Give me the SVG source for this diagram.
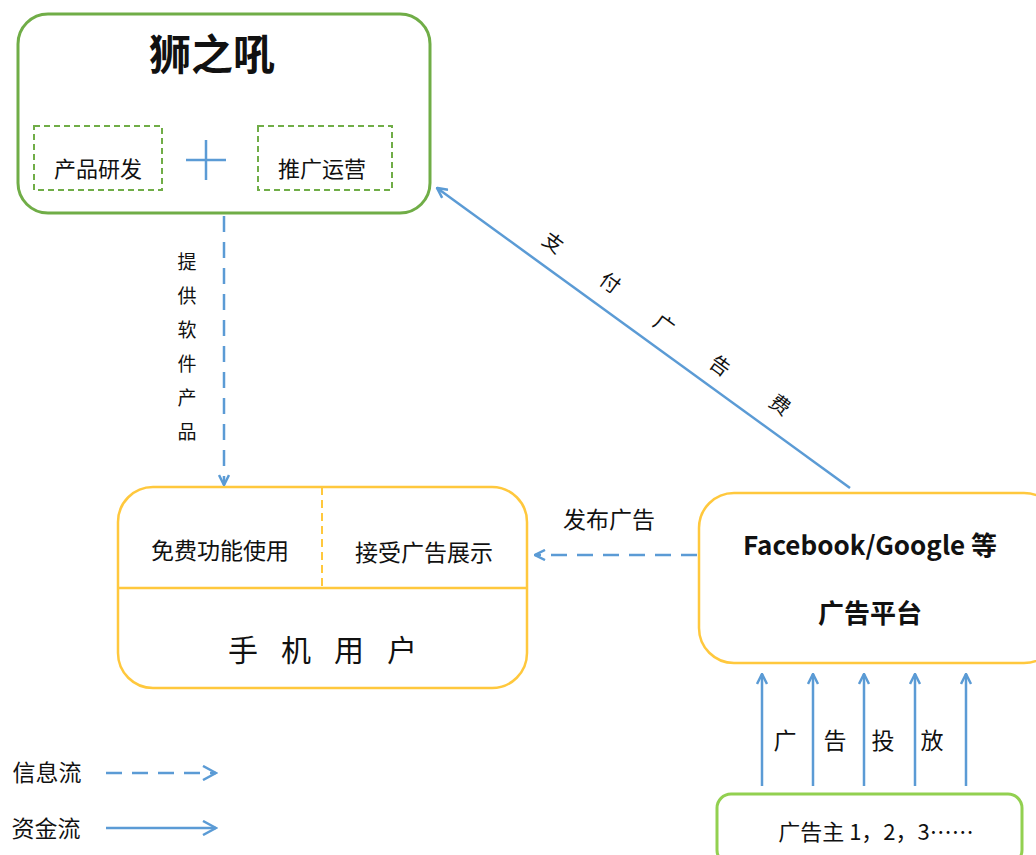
<svg xmlns="http://www.w3.org/2000/svg" width="1036" height="855" viewBox="0 0 1036 855">
<style>
.t{font-family:"Noto Sans CJK SC","Liberation Sans",sans-serif;fill:#111;text-anchor:middle}
.b{font-weight:bold}
.flow{stroke:#5B9BD5;stroke-width:2.5;fill:none}
.dash{stroke-dasharray:16 10}
</style>
<defs>
<marker id="ah" viewBox="0 0 12 12" refX="11" refY="6" markerWidth="12" markerHeight="12" markerUnits="userSpaceOnUse" orient="auto">
<path d="M1,1 L11,6 L1,11" fill="none" stroke="#5B9BD5" stroke-width="2.5"/>
</marker>
<marker id="ahb" viewBox="0 0 16 16" refX="14" refY="8" markerWidth="16" markerHeight="16" markerUnits="userSpaceOnUse" orient="auto">
<path d="M1,1 L14,8 L1,15" fill="none" stroke="#5B9BD5" stroke-width="2.5"/>
</marker>
</defs>
<rect width="1036" height="855" fill="#fff"/>
<g id="node-shizhihou">
<rect x="18" y="14" width="412" height="199" rx="30" fill="#fff" stroke="#70AD47" stroke-width="3"/>
<text class="t b" x="212" y="70" font-size="42">狮之吼</text>
<rect x="34" y="126" width="128" height="64" fill="none" stroke="#70AD47" stroke-width="2" stroke-dasharray="6 4"/>
<text class="t" x="98" y="177" font-size="22">产品研发</text>
<path d="M186,160 H226 M206,140 V180" stroke="#5B9BD5" stroke-width="2.5"/>
<rect x="258" y="126" width="134" height="64" fill="none" stroke="#70AD47" stroke-width="2" stroke-dasharray="6 4"/>
<text class="t" x="322" y="177" font-size="22">推广运营</text>
</g>
<g id="node-users">
<rect x="118" y="487" width="409" height="201" rx="35" fill="#fff" stroke="#FFC83D" stroke-width="2.5"/>
<line x1="118" y1="588" x2="527" y2="588" stroke="#FFC83D" stroke-width="2.5"/>
<line x1="322" y1="487" x2="322" y2="588" stroke="#FFC83D" stroke-width="2" stroke-dasharray="8 5"/>
<text class="t" x="220" y="559" font-size="23">免费功能使用</text>
<text class="t" x="424" y="561" font-size="23">接受广告展示</text>
<text class="t" x="334" y="661" font-size="30" letter-spacing="23">手机用户</text>
</g>
<g id="node-platform">
<rect x="699" y="493" width="360" height="170" rx="35" fill="#fff" stroke="#FFC83D" stroke-width="2.5"/>
<text class="t b" x="870" y="555" font-size="26">Facebook/Google 等</text>
<text class="t b" x="870" y="623" font-size="26">广告平台</text>
</g>
<g id="node-advertisers">
<rect x="717" y="794" width="305" height="70" rx="14" fill="#fff" stroke="#92D050" stroke-width="3"/>
<text class="t" x="876" y="840" font-size="22">广告主 1，2，3……</text>
</g>
<g id="connectors">
<line class="flow dash" x1="224" y1="216" x2="224" y2="485" marker-end="url(#ah)"/>
<line class="flow dash" x1="697" y1="555" x2="535" y2="555" marker-end="url(#ah)"/>
<line class="flow" x1="850" y1="488" x2="437" y2="188" marker-end="url(#ah)"/>
<line class="flow" x1="762" y1="786" x2="762" y2="674" marker-end="url(#ah)"/>
<line class="flow" x1="813" y1="786" x2="813" y2="674" marker-end="url(#ah)"/>
<line class="flow" x1="864" y1="786" x2="864" y2="674" marker-end="url(#ah)"/>
<line class="flow" x1="915" y1="786" x2="915" y2="674" marker-end="url(#ah)"/>
<line class="flow" x1="966" y1="786" x2="966" y2="674" marker-end="url(#ah)"/>
<line class="flow dash" x1="106" y1="773" x2="216" y2="773" marker-end="url(#ahb)"/>
<line class="flow" x1="106" y1="828" x2="216" y2="828" marker-end="url(#ahb)"/>
</g>
<g id="labels">
<g class="t" font-size="19">
<text x="187" y="269">提</text>
<text x="187" y="303">供</text>
<text x="187" y="337">软</text>
<text x="187" y="371">件</text>
<text x="187" y="405">产</text>
<text x="187" y="439">品</text>
</g>
<text class="t" x="609" y="528" font-size="23">发布广告</text>
<g class="t" font-size="20">
<text transform="translate(553,243) rotate(36)" y="7">支</text>
<text transform="translate(610,283) rotate(36)" y="7">付</text>
<text transform="translate(664,325) rotate(36)" y="7">广</text>
<text transform="translate(720,366) rotate(36)" y="7">告</text>
<text transform="translate(780,405) rotate(36)" y="7">费</text>
</g>
<g class="t" font-size="23">
<text x="785" y="749">广</text>
<text x="835" y="749">告</text>
<text x="883" y="749">投</text>
<text x="932" y="749">放</text>
</g>
<text class="t" x="47" y="781" font-size="23">信息流</text>
<text class="t" x="46" y="837" font-size="23">资金流</text>
</g>
</svg>
